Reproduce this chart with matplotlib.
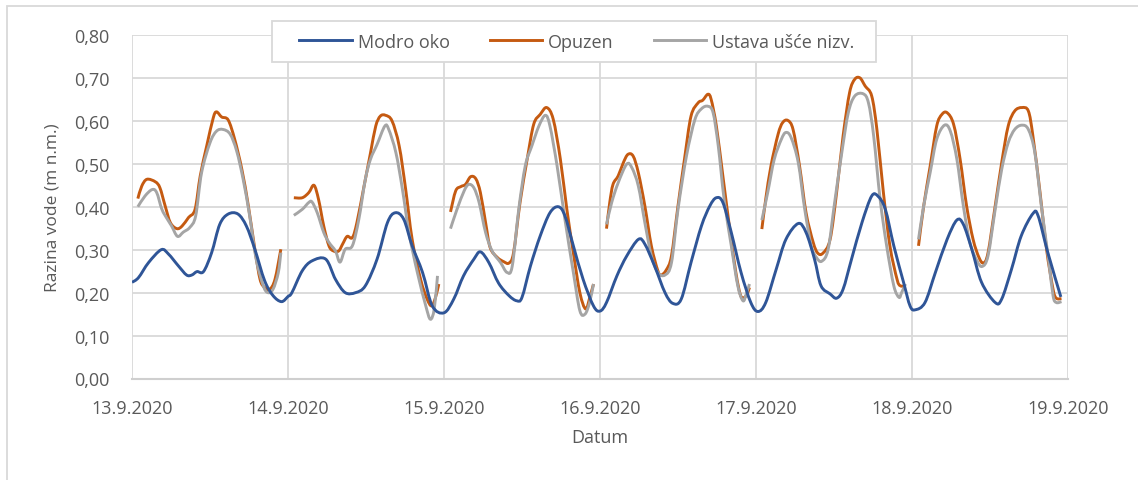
import numpy as np
import matplotlib
matplotlib.use("Agg")
import matplotlib.pyplot as plt
from matplotlib.patches import Rectangle, PathPatch
from matplotlib.path import Path

nan = np.nan

# hours since 13.9.2020 00:00
modro_h = [0, 1.0, 2.55, 4.5, 5.6, 7.15, 8.4, 9.2, 10, 11, 12.25, 13.5, 14.8, 16.3, 17.6, 18.9, 20.4, 21.7, 23, 24,
           24.6, 26.2, 27.7, 29.8, 31.3, 32.8, 34.4, 35.9, 37.7, 39.3, 40.5, 41.8, 43.1, 44.7, 46.2, 48.0,
           49.5, 51, 52.6, 53.6, 54.9, 56.4, 58, 59.2, 60, 61.3, 62.8, 64.3, 65.6, 66.6, 67.9, 69.4, 71, 72,
           73, 74.6, 76.1, 77.9, 78.9, 80.4, 82, 83.2, 84.5, 86, 87.6, 88.9, 89.9, 90.9, 92.2, 93.7, 95.2, 96.3,
           97.5, 99.1, 100.6, 102.5, 103.7, 105, 106, 107.4, 108.4, 109.4, 110.7, 112.3, 113.8, 114.8, 115.9,
           117.2, 118.7, 119.7, 120.5, 122, 123.6, 125.4, 126.9, 127.9, 129.2, 130.7, 132.8, 133.8, 135.3,
           136.8, 138.6, 139.4, 140.9, 142.9]
modro_v = [0.224, 0.235, 0.270, 0.300, 0.290, 0.262, 0.241, 0.241, 0.249, 0.249, 0.293, 0.359, 0.383, 0.383,
           0.355, 0.301, 0.228, 0.193, 0.179, 0.191,
           0.200, 0.251, 0.274, 0.278, 0.231, 0.200, 0.200, 0.216, 0.278, 0.363, 0.386, 0.371, 0.309, 0.247,
           0.169, 0.153,
           0.185, 0.239, 0.278, 0.295, 0.270, 0.222, 0.193, 0.181, 0.189, 0.262, 0.332, 0.386, 0.400, 0.379,
           0.309, 0.231, 0.169, 0.157,
           0.177, 0.239, 0.285, 0.324, 0.313, 0.262, 0.200, 0.175, 0.185, 0.270, 0.355, 0.402, 0.421, 0.410,
           0.340, 0.247, 0.177, 0.156,
           0.177, 0.254, 0.324, 0.361, 0.340, 0.278, 0.216, 0.197, 0.187, 0.208, 0.278, 0.363, 0.425, 0.424,
           0.394, 0.309, 0.224, 0.169, 0.160, 0.177, 0.247, 0.324, 0.369, 0.359, 0.301, 0.224, 0.177, 0.185,
           0.254, 0.332, 0.384, 0.379, 0.293, 0.190]

# daily records, NaN separates one day from the next
opuzen_h = [0.9, 1.5, 2.3, 3.6, 4.3, 5.1, 5.9, 6.9, 7.7, 8.7, 9.7, 10.5, 11.5, 12.5, 13, 13.8, 14.8, 15.8, 16.9,
            17.9, 18.9, 19.7, 20.4, 21.2, 22, 22.9, nan,
            24.9, 26.2, 27.2, 28, 28.7, 29.5, 30.3, 31, 31.8, 32.4, 33.1, 33.9, 34.6, 35.7, 36.7, 37.5, 38.2,
            39, 40, 41.1, 42.1, 43.1, 44.4, 45.4, 46.1, 46.7, 47.2, nan,
            49, 49.8, 50.6, 51.3, 52.1, 52.9, 53.6, 54.4, 55.1, 56.2, 57.2, 58, 58.7, 59.7, 60.8, 61.8, 62.8,
            63.8, 64.8, 65.9, 66.9, 67.9, 68.9, 69.8, 70.5, 71, nan,
            73, 73.5, 74, 74.8, 75.6, 76.3, 77.1, 77.9, 78.9, 79.9, 80.9, 81.4, 82.2, 83, 84, 85, 86, 87.1,
            87.8, 88.6, 89.1, 89.9, 90.9, 91.9, 92.9, 93.7, 94.5, 95, nan,
            96.9, 97.5, 98.3, 99.4, 100.1, 100.9, 101.7, 102.7, 103.7, 104.8, 105.5, 106.3, 107.4, 108.4,
            109.4, 110.4, 111.2, 112, 112.8, 113.8, 114.6, 115.6, 116.6, 117.7, 118.2, 119, nan,
            121, 121.8, 122.8, 123.8, 124.6, 125.4, 126.4, 127.4, 128.4, 129.4, 130.3, 131, 131.7, 132.8,
            133.8, 134.8, 135.8, 136.9, 137.9, 138.6, 139.7, 140.7, 141.7, 142.2, 143]
opuzen_v = [0.419, 0.448, 0.464, 0.458, 0.444, 0.402, 0.363, 0.349, 0.355, 0.375, 0.394, 0.472, 0.542, 0.607,
            0.621, 0.609, 0.602, 0.557, 0.487, 0.402, 0.301, 0.231, 0.212, 0.208, 0.231, 0.301, nan,
            0.421, 0.421, 0.433, 0.450, 0.417, 0.355, 0.309, 0.297, 0.297, 0.313, 0.331, 0.328, 0.363, 0.448,
            0.526, 0.588, 0.611, 0.613, 0.600, 0.542, 0.441, 0.324, 0.231, 0.185, 0.169, 0.189, 0.220, nan,
            0.388, 0.437, 0.447, 0.452, 0.470, 0.465, 0.433, 0.363, 0.305, 0.282, 0.272, 0.269, 0.293, 0.410,
            0.511, 0.592, 0.615, 0.631, 0.604, 0.511, 0.394, 0.293, 0.200, 0.162, 0.193, 0.220, nan,
            0.349, 0.410, 0.452, 0.472, 0.503, 0.522, 0.518, 0.479, 0.402, 0.309, 0.251, 0.241, 0.253, 0.286,
            0.402, 0.511, 0.611, 0.642, 0.648, 0.662, 0.650, 0.588, 0.472, 0.355, 0.247, 0.191, 0.193, 0.212,
            nan,
            0.348, 0.418, 0.495, 0.569, 0.596, 0.601, 0.580, 0.495, 0.386, 0.317, 0.292, 0.292, 0.324, 0.433,
            0.565, 0.666, 0.697, 0.700, 0.681, 0.658, 0.580, 0.433, 0.309, 0.231, 0.216, 0.216, nan,
            0.309, 0.402, 0.495, 0.588, 0.615, 0.619, 0.592, 0.511, 0.402, 0.324, 0.282, 0.269, 0.293, 0.402,
            0.503, 0.588, 0.623, 0.631, 0.623, 0.565, 0.433, 0.301, 0.208, 0.187, 0.186]

ustava_h = [0.9, 2, 3.1, 3.8, 4.6, 5.4, 6.1, 7, 7.9, 8.9, 9.8, 10.7, 12, 13, 14, 15.1, 16.1, 17.1, 18.1, 19.1,
            20.2, 20.9, 21.7, 22.5, 22.9, nan,
            24.9, 26.2, 27.2, 27.7, 28.5, 29.5, 30.3, 31.3, 32, 32.8, 33.9, 34.9, 35.9, 36.7, 37.7, 38.9, 39.5,
            40.6, 41.6, 42.6, 43.9, 45.2, 45.9, 46.5, 47, nan,
            49, 50, 51.1, 51.8, 52.6, 53.4, 54.4, 55.4, 56.7, 57.7, 58.5, 59.5, 60.5, 61.5, 62.6, 63.6, 64.3,
            65.4, 66.6, 67.9, 68.9, 69.7, 70.4, 71, nan,
            73, 73.8, 74.8, 76.1, 76.9, 77.9, 78.9, 79.9, 80.9, 82, 83, 84, 85.3, 86.6, 87.6, 88.6, 89.4, 90.2,
            91.1, 92.2, 93.2, 94, 94.5, 95, nan,
            96.9, 97.8, 98.8, 99.9, 100.6, 101.4, 102.5, 103.5, 104.5, 105.3, 106.1, 107.1, 108.1, 109.2,
            110.2, 111.2, 112.5, 113.3, 114.1, 115.1, 116.1, 117.2, 118, 118.4, 119, nan,
            121, 121.8, 122.8, 123.8, 125, 125.9, 126.9, 127.9, 128.9, 130, 130.8, 131.7, 132.8, 133.8, 134.8,
            135.8, 136.9, 137.9, 138.9, 139.9, 141, 141.7, 142.2, 143]
ustava_v = [0.400, 0.425, 0.440, 0.433, 0.394, 0.372, 0.355, 0.331, 0.341, 0.352, 0.379, 0.479, 0.549, 0.576,
            0.580, 0.569, 0.530, 0.464, 0.379, 0.278, 0.216, 0.200, 0.208, 0.246, 0.293, nan,
            0.380, 0.394, 0.410, 0.411, 0.386, 0.340, 0.317, 0.297, 0.271, 0.301, 0.309, 0.371, 0.464, 0.511,
            0.545, 0.588, 0.580, 0.526, 0.441, 0.340, 0.247, 0.169, 0.138, 0.162, 0.239, nan,
            0.349, 0.394, 0.437, 0.452, 0.444, 0.410, 0.340, 0.297, 0.270, 0.247, 0.262, 0.394, 0.495, 0.541,
            0.588, 0.613, 0.588, 0.495, 0.371, 0.247, 0.158, 0.150, 0.177, 0.220, nan,
            0.359, 0.410, 0.456, 0.499, 0.491, 0.448, 0.363, 0.286, 0.247, 0.241, 0.270, 0.394, 0.518, 0.603,
            0.628, 0.634, 0.619, 0.541, 0.417, 0.309, 0.216, 0.181, 0.197, 0.220, nan,
            0.369, 0.433, 0.510, 0.557, 0.573, 0.561, 0.503, 0.394, 0.309, 0.282, 0.273, 0.301, 0.410, 0.526,
            0.619, 0.658, 0.663, 0.642, 0.565, 0.417, 0.309, 0.216, 0.189, 0.200, 0.220, nan,
            0.324, 0.402, 0.480, 0.557, 0.590, 0.576, 0.511, 0.402, 0.317, 0.274, 0.261, 0.286, 0.394, 0.487,
            0.549, 0.580, 0.590, 0.580, 0.526, 0.402, 0.278, 0.193, 0.177, 0.179]

day_ticks = [0, 24, 48, 72, 96, 120, 144]
day_labels = ["13.9.2020", "14.9.2020", "15.9.2020", "16.9.2020", "17.9.2020", "18.9.2020", "19.9.2020"]
y_ticks = [0.0, 0.1, 0.2, 0.3, 0.4, 0.5, 0.6, 0.7, 0.8]

BLUE = "#2f5597"
ORANGE = "#c55a11"
GRAY = "#a5a5a5"
GRID = "#d9d9d9"
TEXT = "#595959"
LW = 2.1


def smooth_line(ax, xs, ys, color, label, zorder):
    """Spreadsheet-style smoothed line: Bezier path through every reading, broken at NaN."""
    xs = np.asarray(xs, float)
    ys = np.asarray(ys, float)
    breaks = np.flatnonzero(np.isnan(xs))
    for seg in np.split(np.arange(len(xs)), breaks):
        seg = seg[~np.isnan(xs[seg])]
        if len(seg) < 2:
            continue
        p = np.column_stack([xs[seg], ys[seg]])
        ext = np.vstack([p[0], p, p[-1]])
        verts = [p[0]]
        codes = [Path.MOVETO]
        for i in range(len(p) - 1):
            c1 = ext[i + 1] + (ext[i + 2] - ext[i]) / 6.0
            c2 = ext[i + 2] - (ext[i + 3] - ext[i + 1]) / 6.0
            verts += [c1, c2, ext[i + 2]]
            codes += [Path.CURVE4] * 3
        ax.add_patch(PathPatch(Path(verts, codes), fill=False, edgecolor=color, lw=LW,
                               joinstyle="round", capstyle="butt", zorder=zorder))
    ax.plot([], [], color=color, lw=LW, label=label)


W, H = 1138, 481
plt.rcParams["font.family"] = ["Open Sans", "DejaVu Sans"]

fig = plt.figure(figsize=(W / 100, H / 100), dpi=100)
ax = fig.add_axes([132 / W, 1 - 379.5 / H, 936 / W, 343.5 / H])

smooth_line(ax, modro_h, modro_v, BLUE, "Modro oko", 3)
smooth_line(ax, opuzen_h, opuzen_v, ORANGE, "Opuzen", 2)
smooth_line(ax, ustava_h, ustava_v, GRAY, "Ustava ušće nizv.", 2)

ax.set_xlim(0, 144)
ax.set_ylim(0, 0.8)
ax.set_xticks(day_ticks)
ax.set_xticklabels(day_labels)
ax.set_yticks(y_ticks)
ax.set_yticklabels([f"{t:.2f}".replace(".", ",") for t in y_ticks])
ax.tick_params(length=0, labelsize=13, colors=TEXT)
ax.tick_params(axis="x", pad=15)
ax.tick_params(axis="y", pad=16)

ax.grid(True, color=GRID, lw=1.3)
ax.set_axisbelow(True)
for name, spine in ax.spines.items():
    spine.set_visible(name == "bottom")
ax.spines["bottom"].set_color("#cfcfcf")
ax.spines["bottom"].set_linewidth(1.5)

ax.set_xlabel("Datum", fontsize=13, color=TEXT, labelpad=8)
ax.set_ylabel("Razina vode (m n.m.)", fontsize=12.5, color=TEXT, labelpad=10)

# legend box sits over the plot area, entries drawn on top of it
fig.add_artist(Rectangle((272 / W, 1 - 63 / H), 604 / W, 41 / H, transform=fig.transFigure,
                         facecolor="white", edgecolor=GRID, lw=1.3, zorder=1))
handles, labels = ax.get_legend_handles_labels()
fig.legend(handles, labels, loc="center", bbox_to_anchor=(577 / W, 1 - 42.5 / H),
           ncol=3, frameon=False, fontsize=13, handlelength=2.9, columnspacing=2.2,
           handletextpad=0.35, labelcolor=TEXT)

# outer chart border
fig.add_artist(Rectangle((7 / W, -0.05), 1.2, 1.05 - 6.5 / H, transform=fig.transFigure,
                         fill=False, edgecolor=GRID, lw=1.3))

fig.savefig("out.png", dpi=100, facecolor="white")
